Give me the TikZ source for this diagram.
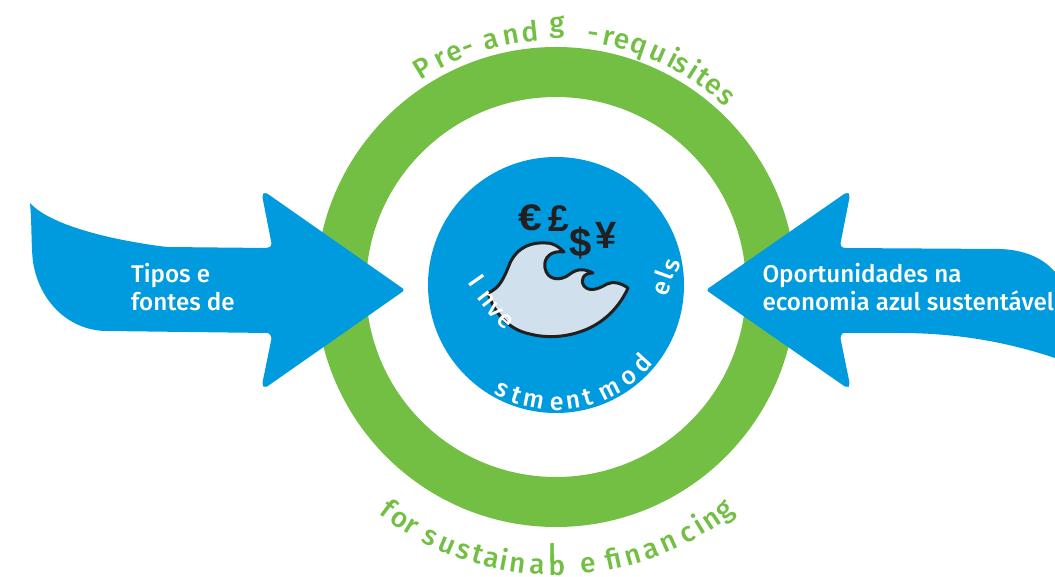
\documentclass[tikz,border=0pt]{standalone}
\usepackage{fontspec}
\setmainfont{Fira Sans}[UprightFont=* Medium,BoldFont=* SemiBold]
\newfontfamily\symfont{Liberation Sans}
\definecolor{ringgreen}{HTML}{72BF44}
\definecolor{flowblue}{HTML}{009ADE}
\definecolor{wavefill}{HTML}{D0E1ED}
\definecolor{inkdark}{HTML}{231F20}
\tikzset{
  flowarrow/.style={fill=flowblue,draw=none},
  arrowlabel/.style={anchor=base west,text=white,font=\fontsize{24.2}{24.2}\selectfont,inner sep=0pt,outer sep=0pt},
  currency/.style={text=inkdark,inner sep=0pt,outer sep=0pt},
  letterbase/.style={anchor=base,inner sep=0pt,outer sep=0pt},
  greenletter/.style={letterbase,text=ringgreen,font=\fontsize{28}{28}\selectfont},
  whiteletter/.style={letterbase,text=white,font=\fontsize{25}{25}\selectfont}
}
% letter over the top of the ring (angle clockwise from up)
\newcommand{\topletter}[2]{\node[greenletter,rotate=-#1] (t#1) at ({556+247*sin(#1)},{287-247*cos(#1)}) {#2};}
% letter under the ring (angle counter-clockwise from down)
\newcommand{\botletter}[2]{\node[greenletter,rotate=#1] (b#1) at ({556+288*sin(#1)},{287+288*cos(#1)}) {#2};}
% letter inside the disc, under-side
\newcommand{\discletter}[2]{\node[whiteletter,rotate=#1] (d#1) at ({556+125*sin(#1)},{285+125*cos(#1)}) {#2};}
\begin{document}
\begin{tikzpicture}[x=1pt,y=-1pt]
\useasboundingbox (0,0) rectangle (1055,577);
% ring
\fill[ringgreen,even odd rule] (556,287) circle [radius=240]
      (556,287) circle [radius=190];
% disc
\node[circle,fill=flowblue,minimum size=256pt,inner sep=0pt,outer sep=0pt] (disc) at (556,285) {};
% wave
\draw[fill=wavefill,draw=inkdark,line width=3pt,line join=round] (488,293)
  .. controls (500,288) and (504,278) .. (510,263)
  .. controls (518,246) and (533,242) .. (546,243)
  .. controls (554,243) and (559,247) .. (564,252)
  .. controls (552,250) and (543,257) .. (545,268)
  .. controls (547,280) and (560,282) .. (570,274)
  .. controls (578,268) and (585,269) .. (593,273)
  .. controls (583,273) and (580,280) .. (584,286)
  .. controls (590,293) and (600,288) .. (607,284)
  .. controls (613,281) and (621,283) .. (628,288)
  .. controls (620,306) and (605,322) .. (585,330)
  .. controls (565,338) and (545,338) .. (530,334)
  .. controls (510,330) and (495,315) .. (488,293) -- cycle;
% currencies
\node[currency,xscale=1.15,font=\symfont\bfseries\fontsize{37}{37}\selectfont] (euro) at (530,218) {€};
\node[currency,font=\symfont\bfseries\fontsize{37}{37}\selectfont] (pound) at (559,219) {£};
\node[currency,font=\symfont\bfseries\fontsize{40}{40}\selectfont] (dollar) at (581,243) {\$};
\node[currency,font=\symfont\bfseries\fontsize{38}{38}\selectfont] (yen) at (606,235) {¥};
% arrows
\fill[flowarrow,rounded corners=3pt] (405,290) -- (265,192) -- (262,195) -- (272,246) -- (268,248)
  [sharp corners] -- (167,247) .. controls (110,240) and (50,225) .. (30,203)
  .. controls (32,225) and (31,245) .. (33,262)
  .. controls (40,305) and (72,331) .. (107,331) -- (268,333)
  [rounded corners=3pt] -- (272,336) -- (262,385) -- (265,388) -- cycle;
\fill[flowarrow,rounded corners=3pt] (706,290) -- (847,192) -- (850,195) -- (840,246) -- (843,248)
  [sharp corners] -- (1000,249) .. controls (1025,250) and (1043,258) .. (1055,272)
  -- (1055,358) .. controls (1010,343) and (960,333) .. (900,333) -- (843,333)
  [rounded corners=3pt] -- (840,336) -- (850,385) -- (847,388) -- cycle;
\node[arrowlabel] (src1) at (131,283) {Tipos e};
\node[arrowlabel] (src2) at (131,311) {fontes de};
\node[arrowlabel] (opp1) at (762.5,283) {Oportunidades na};
\node[arrowlabel] (opp2) at (762.5,311) {economia azul sustentável};
% top text
\topletter{-31.4}{P}\topletter{-26.9}{r}\topletter{-23.4}{e}\topletter{-20.2}{-}
\topletter{-14.7}{a}\topletter{-10.1}{n}\topletter{-5.9}{d}
\node[greenletter] (tg) at (557,33) {g};
\topletter{8.4}{-}\topletter{12}{r}\topletter{15.1}{e}\topletter{18.9}{q}\topletter{23.6}{u}
\topletter{27.3}{i}\topletter{29.4}{s}\topletter{32.4}{i}\topletter{35.1}{t}\topletter{38.1}{e}\topletter{41.9}{s}
% bottom text
\botletter{-37.2}{f}\botletter{-33.9}{o}\botletter{-31.2}{r}
\botletter{-26.8}{s}\botletter{-22.9}{u}\botletter{-19.3}{s}\botletter{-16.3}{t}\botletter{-13.2}{a}\botletter{-10.7}{i}\botletter{-7.9}{n}\botletter{-3.9}{a}\botletter{0.2}{b}
\node[greenletter] (bl) at (552.5,564) {l};
\botletter{6.6}{e}
\botletter{11.9}{fi}\botletter{16}{n}\botletter{19.9}{a}\botletter{23.8}{n}\botletter{28}{c}\botletter{31}{i}\botletter{33.7}{n}\botletter{37.1}{g}
% disc text
\node[whiteletter,rotate=-55] (dI) at (470,286) {I};
\node[whiteletter,rotate=-52] (dn) at (481,303) {n};
\node[whiteletter,rotate=-48] (dv) at (490,315) {v};
\node[whiteletter,rotate=-42] (de) at (501,326) {e};
\discletter{-27}{s}\discletter{-19.6}{t}\discletter{-11}{m}\discletter{0.3}{e}\discletter{8.3}{n}\discletter{16}{t}\discletter{27}{m}\discletter{38}{o}\discletter{47.5}{d}
\node[whiteletter,rotate=68] (ee) at (669,291) {e};
\node[whiteletter,rotate=70] (el) at (673,278) {l};
\node[whiteletter,rotate=72] (es) at (679,268) {s};
\end{tikzpicture}
\end{document}
